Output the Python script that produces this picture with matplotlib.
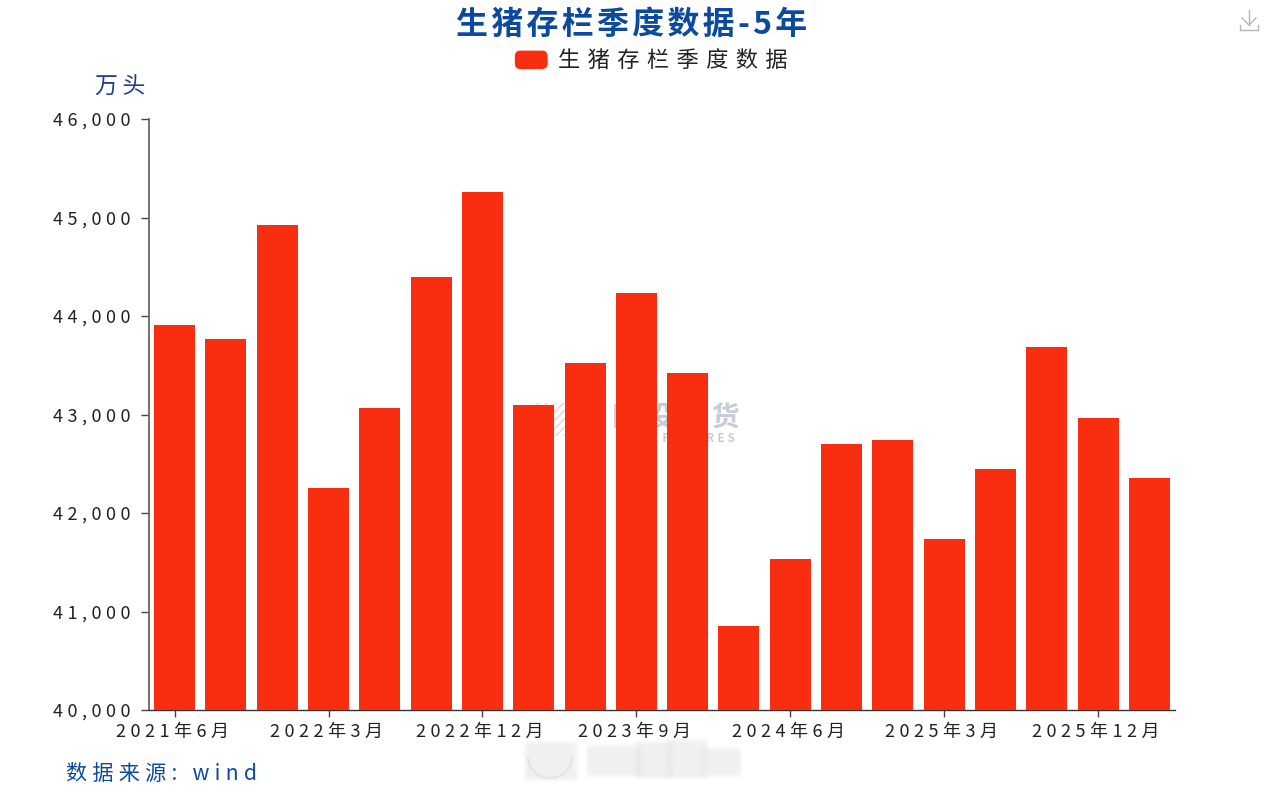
import matplotlib
matplotlib.use("Agg")
import matplotlib.pyplot as plt
from matplotlib.legend_handler import HandlerPatch
from matplotlib.patches import Arc, FancyBboxPatch, Patch, Rectangle

W, H = 1268, 793
CJK = ["Noto Sans CJK SC", "DejaVu Sans"]
plt.rcParams["font.family"] = CJK

categories = [
    "2021年6月", "2021年9月", "2021年12月", "2022年3月", "2022年6月",
    "2022年9月", "2022年12月", "2023年3月", "2023年6月", "2023年9月",
    "2023年12月", "2024年3月", "2024年6月", "2024年9月", "2024年12月",
    "2025年3月", "2025年6月", "2025年9月", "2025年12月", "2026年3月",
]
values = [
    43910, 43766, 44924, 42254, 43066, 44396, 45259, 43096, 43523, 44234,
    43421, 40853, 41533, 42700, 42741, 41736, 42447, 43685, 42964, 42355,
]
y_ticks = [40000, 41000, 42000, 43000, 44000, 45000, 46000]
label_step = 3

BAR = "#f92e10"
BLUE = "#0b4a9e"


def spaced(s, gap="\u2005"):
    # 字間を広げる
    return gap.join(s)


def fx(px):
    return px / W


def fy(px):
    return 1 - px / H


class RoundedHandler(HandlerPatch):
    def create_artists(self, legend, orig, xd, yd, width, height, fontsize, trans):
        p = FancyBboxPatch(
            (-xd + 4, -yd + 3), width - 8, height - 6,
            boxstyle="round,pad=3,rounding_size=4",
            facecolor=BAR, edgecolor="none", transform=trans,
        )
        return [p]


fig = plt.figure(figsize=(W / 100, H / 100), dpi=100, facecolor="white")
ax = fig.add_axes([fx(149), fy(710), fx(1175 - 149), (710 - 119) / H])

# ウォーターマーク(棒の後ろ)
ax.text(fx(676), fy(419), spaced("国投期货", "\u2009"), fontsize=20, fontweight="bold",
        color="#c9ccd6", ha="center", va="center", zorder=1, transform=fig.transFigure)
ax.text(fx(676), fy(438), spaced("SDIC FUTURES", "\u2005"), fontsize=8.5, fontweight="bold",
        color="#c9ccd6", ha="center", va="center", zorder=1, transform=fig.transFigure)
ax.add_patch(Rectangle((fx(532), fy(436)), 34 / W, 33 / H, transform=fig.transFigure,
                       facecolor="none", edgecolor="#f3cfcb", hatch="////",
                       linewidth=0, zorder=1, clip_on=False))

positions = list(range(len(values)))
ax.bar(positions, values, width=0.8, color=BAR, zorder=3)
ax.set_xlim(-0.5, len(values) - 0.5)
ax.set_ylim(y_ticks[0], y_ticks[-1])

ax.set_yticks(y_ticks)
ax.set_yticklabels([spaced(f"{v:,}") for v in y_ticks], fontsize=13, color="#222222")
tick_pos = positions[::label_step]
ax.set_xticks(tick_pos)
ax.set_xticklabels([spaced(categories[i]) + "\u2005" for i in tick_pos], fontsize=13, color="#222222")
ax.tick_params(axis="y", length=6, width=1, color="#444444", pad=7)
ax.tick_params(axis="x", length=5, width=1, color="#444444", pad=4)

ax.spines["top"].set_visible(False)
ax.spines["right"].set_visible(False)
ax.spines["left"].set_color("#666666")
ax.spines["left"].set_linewidth(1.3)
ax.spines["bottom"].set_color("#333333")
ax.spines["bottom"].set_linewidth(1.0)

fig.text(fx(632), fy(25), spaced("生猪存栏季度数据-5年", "\u200a"), fontsize=23, fontweight="bold",
         color=BLUE, ha="center", va="center")

leg = fig.legend(
    handles=[Patch(facecolor=BAR, label=spaced("生猪存栏季度数据", "\u2004"))],
    handler_map={Patch: RoundedHandler()},
    loc="center", bbox_to_anchor=(fx(650.5), fy(61)), frameon=False,
    fontsize=16, handlelength=1.6, handleheight=0.9, handletextpad=0.4,
    borderpad=0, labelcolor="#222222",
)
for t in leg.get_texts():
    t.set_fontweight("light")

fig.text(fx(120), fy(87), spaced("万头", "\u2009"), fontsize=16.5, color="#1f3f8f", ha="center", va="center")
fig.text(fx(66), fy(774), spaced("数据来源: wind", "\u2005"), fontsize=15.2, color=BLUE,
         ha="left", va="center")

# ダウンロードアイコン
icon = "#b5b5b5"
for xs, ys in [
    ([1249, 1249], [10, 25]),
    ([1242, 1249, 1256], [18, 25, 18]),
    ([1240, 1240, 1258, 1258], [25, 30, 30, 25]),
]:
    fig.add_artist(plt.Line2D([fx(v) for v in xs], [fy(v) for v in ys], color=icon, linewidth=1))

# 下部のぼかしウォーターマーク
for x0, wd, y0, ht in [
    (530, 42, 746, 30), (592, 46, 750, 22), (640, 28, 746, 28),
    (672, 30, 744, 30), (706, 30, 752, 20),
]:
    for grow in (4, 2, 0):
        fig.patches.append(FancyBboxPatch(
            (fx(x0 - grow), fy(y0 + ht + grow)), (wd + 2 * grow) / W, (ht + 2 * grow) / H,
            boxstyle="round,pad=0.002,rounding_size=0.004",
            transform=fig.transFigure, facecolor="#e6e6e6", edgecolor="none", alpha=0.22,
        ))
fig.add_artist(Arc((fx(550), fy(757)), 44 / W, 42 / H, theta1=180, theta2=360,
                   color="#e8e8e8", linewidth=2, transform=fig.transFigure))

fig.savefig("out.png", dpi=100)
plt.close(fig)
